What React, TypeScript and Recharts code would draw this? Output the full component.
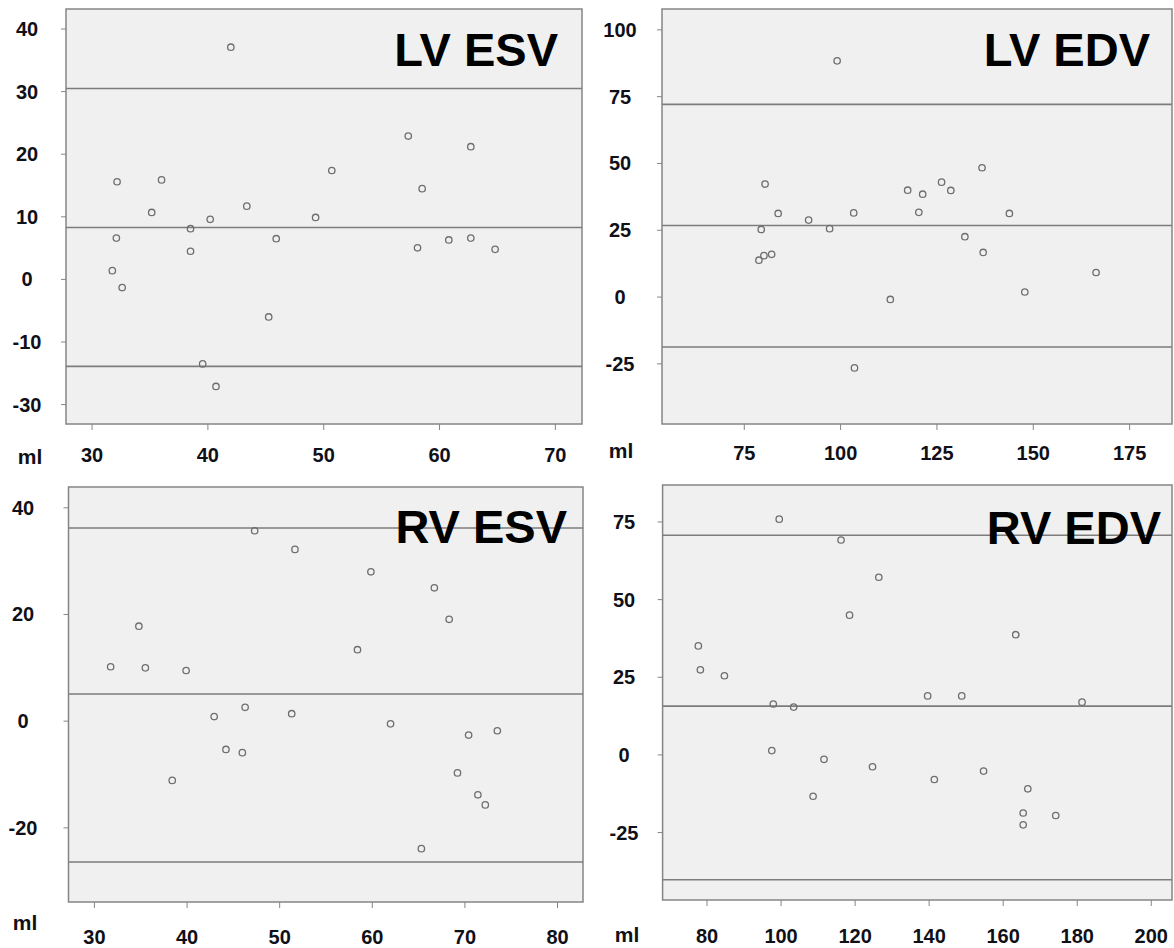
import React from "react";
import { ScatterChart, Scatter, XAxis, YAxis, ReferenceLine, ReferenceArea } from "recharts";

// LV ESV: mean of methods (ml) vs difference (ml)
const lvEsvMean = [41.98, 32.16, 36.0, 35.15, 43.36, 40.2, 38.5, 32.1, 38.5, 45.9, 31.75, 32.6, 45.25, 39.55, 40.7, 57.3, 62.7, 50.7, 58.5, 49.3, 58.1, 60.8, 62.7, 64.8];
const lvEsvDiff = [37.1, 15.6, 15.9, 10.7, 11.7, 9.6, 8.1, 6.6, 4.5, 6.5, 1.4, -1.3, -6.0, -13.5, -17.1, 22.9, 21.2, 17.4, 14.5, 9.9, 5.05, 6.3, 6.6, 4.8];
const lvEsvLimits = [30.5, 8.3, -13.9];
const lvEsvXTicks = [30, 40, 50, 60, 70];
const lvEsvYTicks = [-20, -10, 0, 10, 20, 30, 40];
const lvEsvYLabels = ["-30", "-10", "0", "10", "20", "30", "40"];

// LV EDV
const lvEdvMean = [99.1, 80.4, 83.8, 91.7, 103.4, 79.4, 97.15, 78.8, 80.1, 82.1, 103.6, 136.7, 117.4, 121.3, 126.2, 128.6, 120.3, 143.8, 132.25, 137.0, 166.3, 147.8, 112.9];
const lvEdvDiff = [88.4, 42.3, 31.3, 28.8, 31.5, 25.3, 25.6, 13.8, 15.5, 16.0, -26.5, 48.4, 40.0, 38.5, 43.0, 39.9, 31.7, 31.3, 22.6, 16.7, 9.2, 1.9, -0.9];
const lvEdvLimits = [72.1, 26.8, -18.7];
const lvEdvXTicks = [75, 100, 125, 150, 175];
const lvEdvYTicks = [-25, 0, 25, 50, 75, 100];
const lvEdvYLabels = ["-25", "0", "25", "50", "75", "100"];

// RV ESV
const rvEsvMean = [47.3, 51.65, 34.8, 31.75, 35.5, 39.9, 59.85, 66.7, 68.3, 58.4, 42.93, 46.27, 51.3, 44.2, 45.97, 38.4, 61.97, 70.4, 73.5, 69.2, 71.4, 72.2, 65.3];
const rvEsvDiff = [35.7, 32.2, 17.8, 10.2, 10.0, 9.5, 28.0, 25.0, 19.1, 13.4, 0.87, 2.6, 1.4, -5.3, -5.9, -11.1, -0.5, -2.6, -1.8, -9.7, -13.8, -15.7, -23.9];
const rvEsvLimits = [36.2, 5.1, -26.4];
const rvEsvXTicks = [30, 40, 50, 60, 70, 80];
const rvEsvYTicks = [-20, 0, 20, 40];
const rvEsvYLabels = ["-20", "0", "20", "40"];

// RV EDV
const rvEdvMean = [99.5, 116.2, 126.4, 118.5, 163.4, 77.65, 78.2, 84.7, 97.9, 103.4, 139.6, 148.8, 181.3, 97.5, 111.6, 124.7, 108.65, 141.4, 154.7, 166.65, 165.4, 165.4, 174.2];
const rvEdvDiff = [75.9, 69.2, 57.2, 45.0, 38.7, 35.1, 27.4, 25.5, 16.4, 15.4, 19.0, 19.0, 17.0, 1.4, -1.4, -3.8, -13.3, -7.9, -5.2, -10.9, -18.7, -22.5, -19.5];
const rvEdvLimits = [70.7, 15.7, -40.2];
const rvEdvXTicks = [80, 100, 120, 140, 160, 180, 200];
const rvEdvYTicks = [-25, 0, 25, 50, 75];
const rvEdvYLabels = ["-25", "0", "25", "50", "75"];

const FONT = '"Liberation Sans", Arial, sans-serif';
const GRID = "#858585";

type Box = { left: number; top: number; w: number; h: number };
type Plot = { L: number; T: number; R: number; B: number };

interface PanelProps {
  box: Box;
  plot: Plot;
  mean: number[];
  diff: number[];
  limits: number[];
  xTicks: number[];
  yTicks: number[];
  yLabels: string[];
  xDomain: [number, number];
  yDomain: [number, number];
  yLabelX: number;
  xLabelY: number;
}

function Panel({ box, plot, mean, diff, limits, xTicks, yTicks, yLabels, xDomain, yDomain, yLabelX, xLabelY }: PanelProps) {
  const data = mean.map((m, i) => ({ mean: m, diff: diff[i] }));
  const xAxisH = 30;
  const margin = {
    top: plot.T - box.top,
    right: box.left + box.w - plot.R,
    bottom: box.top + box.h - plot.B - xAxisH,
    left: 0,
  };
  const yLabel = (v: number) => {
    const i = yTicks.indexOf(v);
    return i >= 0 ? yLabels[i] : String(v);
  };

  return (
    <div style={{ position: "absolute", left: box.left, top: box.top }}>
      <ScatterChart width={box.w} height={box.h} margin={margin}>
        <ReferenceArea
          x1={xDomain[0]}
          x2={xDomain[1]}
          y1={yDomain[0]}
          y2={yDomain[1]}
          fill="#f0f0f0"
          fillOpacity={1}
          stroke={GRID}
          strokeWidth={1.5}
        />
        <XAxis
          type="number"
          dataKey="mean"
          domain={xDomain}
          allowDataOverflow
          ticks={xTicks}
          height={xAxisH}
          axisLine={false}
          tickSize={6}
          tickLine={{ stroke: GRID }}
          tick={(p: any) => (
            <text
              x={p.x}
              y={xLabelY - box.top}
              textAnchor="middle"
              fontFamily={FONT}
              fontWeight="bold"
              fontSize={20}
              fill="#101018"
            >
              {p.payload.value}
            </text>
          )}
        />
        <YAxis
          type="number"
          dataKey="diff"
          domain={yDomain}
          allowDataOverflow
          ticks={yTicks}
          width={plot.L - box.left}
          axisLine={false}
          tickSize={5}
          tickLine={{ stroke: GRID }}
          tick={(p: any) => (
            <text
              x={yLabelX - box.left}
              y={p.y + 7}
              textAnchor="middle"
              fontFamily={FONT}
              fontWeight="bold"
              fontSize={20}
              fill="#101018"
            >
              {yLabel(p.payload.value)}
            </text>
          )}
        />
        {limits.map((v) => (
          <ReferenceLine key={v} y={v} stroke="#7d7d7d" strokeWidth={1.6} />
        ))}
        <Scatter
          data={data}
          isAnimationActive={false}
          shape={(p: any) => (
            <circle cx={p.cx} cy={p.cy} r={3.2} fill="none" stroke="#6e6e6e" strokeWidth={1.3} />
          )}
        />
      </ScatterChart>
    </div>
  );
}

const titles = [
  { text: "LV ESV", x: 558, y: 66 },
  { text: "LV EDV", x: 1150, y: 66 },
  { text: "RV ESV", x: 567, y: 543 },
  { text: "RV EDV", x: 1161, y: 544 },
];

const unitLabels = [
  { x: 30, y: 464 },
  { x: 621, y: 458 },
  { x: 25, y: 930 },
  { x: 627, y: 942 },
];

export default function App() {
  return (
    <div style={{ position: "absolute", left: 0, top: 0, width: 1174, height: 948, background: "#fff" }}>
      <Panel
        box={{ left: 0, top: 0, w: 590, h: 470 }}
        plot={{ L: 66, T: 9, R: 582, B: 424 }}
        mean={lvEsvMean}
        diff={lvEsvDiff}
        limits={lvEsvLimits}
        xTicks={lvEsvXTicks}
        yTicks={lvEsvYTicks}
        yLabels={lvEsvYLabels}
        xDomain={[27.75, 72.3]}
        yDomain={[-23.1, 43.2]}
        yLabelX={27}
        xLabelY={462}
      />
      <Panel
        box={{ left: 590, top: 0, w: 584, h: 470 }}
        plot={{ L: 662, T: 9, R: 1172, B: 424 }}
        mean={lvEdvMean}
        diff={lvEdvDiff}
        limits={lvEdvLimits}
        xTicks={lvEdvXTicks}
        yTicks={lvEdvYTicks}
        yLabels={lvEdvYLabels}
        xDomain={[53.65, 186.0]}
        yDomain={[-47.5, 107.8]}
        yLabelX={620}
        xLabelY={460}
      />
      <Panel
        box={{ left: 0, top: 470, w: 590, h: 478 }}
        plot={{ L: 68.5, T: 487, R: 583, B: 902 }}
        mean={rvEsvMean}
        diff={rvEsvDiff}
        limits={rvEsvLimits}
        xTicks={rvEsvXTicks}
        yTicks={rvEsvYTicks}
        yLabels={rvEsvYLabels}
        xDomain={[27.2, 82.75]}
        yDomain={[-33.9, 43.9]}
        yLabelX={23}
        xLabelY={944}
      />
      <Panel
        box={{ left: 590, top: 470, w: 584, h: 478 }}
        plot={{ L: 662.6, T: 485, R: 1172, B: 900 }}
        mean={rvEdvMean}
        diff={rvEdvDiff}
        limits={rvEdvLimits}
        xTicks={rvEdvXTicks}
        yTicks={rvEdvYTicks}
        yLabels={rvEdvYLabels}
        xDomain={[68.0, 205.6]}
        yDomain={[-46.7, 86.9]}
        yLabelX={624}
        xLabelY={943}
      />
      <svg
        width={1174}
        height={948}
        style={{ position: "absolute", left: 0, top: 0, pointerEvents: "none" }}
      >
        {titles.map((t) => (
          <text
            key={t.text}
            x={t.x}
            y={t.y}
            textAnchor="end"
            fontFamily={FONT}
            fontWeight="bold"
            fontSize={47}
            fill="#000"
          >
            {t.text}
          </text>
        ))}
        {unitLabels.map((u, i) => (
          <text
            key={i}
            x={u.x}
            y={u.y}
            textAnchor="middle"
            fontFamily={FONT}
            fontWeight="bold"
            fontSize={21}
            fill="#101018"
          >
            ml
          </text>
        ))}
      </svg>
    </div>
  );
}
